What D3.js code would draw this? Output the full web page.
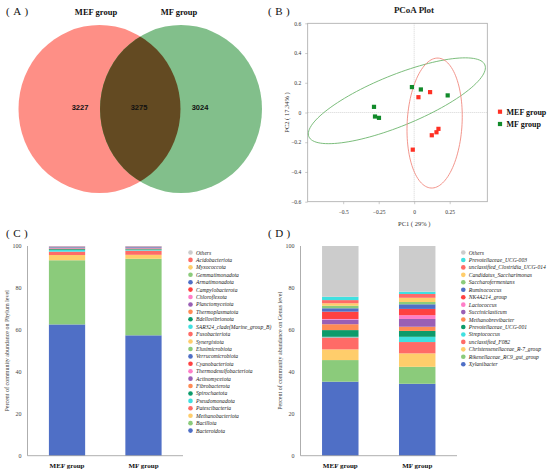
<!DOCTYPE html>
<html>
<head>
<meta charset="utf-8">
<script src="https://cdn.jsdelivr.net/npm/d3@7"></script>
<style>
  body { margin: 0; background: #fff; }
  svg { display: block; }
</style>
</head>
<body>
<svg id="fig"></svg>
<script>
// ---- data ----
var groups = ["MEF group", "MF group"];
var vennCounts = [3227, 3275, 3024];   // MEF only, shared, MF only

var mefPC1 = [0.03, 0.112, -0.01, 0.124, 0.157, 0.171];
var mefPC2 = [0.103, 0.137, -0.25, -0.153, -0.133, -0.11];
var mfPC1 = [-0.016, 0.047, 0.236, -0.283, -0.276, -0.248];
var mfPC2 = [0.171, 0.155, 0.115, 0.038, -0.027, -0.036];
// confidence ellipses: centre x, centre y, half axis 1 (x, y), half axis 2 (x, y)
var mefEllipse = [0.144, -0.071, 0.193, -0.010, 0.025, 0.437];
var mfEllipse = [-0.122, 0.079, 0.620, 0.241, -0.067, 0.159];
var pcoaXTicks = [-0.5, -0.25, 0, 0.25];
var pcoaYTicks = [0.6, 0.4, 0.2, 0, -0.2, -0.4, -0.6];

// phylum level, bottom of stack first
var phyla = ["Bacteroidota", "Bacillota", "Methanobacteriota", "Patescibacteria", "Pseudomonadota",
  "Spirochaetota", "Fibrobacterota", "Actinomycetota", "Thermodesulfobacteriota", "Cyanobacteriota",
  "Verrucomicrobiota", "Elusimicrobiota", "Synergistota", "Fusobacteriota", "SAR324_clade(Marine_group_B)",
  "Bdellovibrionota", "Thermoplasmatota", "Planctomycetota", "Chloroflexota", "Campylobacterota",
  "Armatimonadota", "Gemmatimonadota", "Myxococcota", "Acidobacteriota", "Others"];
var phylumMEF = [62.6, 30.6, 2.5, 1.6, 0.8, 0.4, 0.2, 0.2, 0.1, 0.1, 0.3, 0.05, 0.02, 0.02, 0.02,
  0.03, 0.02, 0.2, 0.03, 0.02, 0.02, 0.02, 0.02, 0.03, 0.1];
var phylumMF = [57.4, 36.5, 1.9, 2.0, 0.4, 0.3, 0.3, 0.2, 0.1, 0.1, 0.3, 0.05, 0.02, 0.02, 0.02,
  0.03, 0.02, 0.15, 0.02, 0.02, 0.02, 0.02, 0.02, 0.03, 0.06];

// genus level, bottom of stack first
var genera = ["Xylanibacter", "Rikenellaceae_RC9_gut_group", "Christensenellaceae_R-7_group",
  "unclassified_F082", "Streptococcus", "Prevotellaceae_UCG-001", "Methanobrevibacter",
  "Succiniclasticum", "Lactococcus", "NK4A214_group", "Ruminococcus", "Saccharofermentans",
  "Candidatus_Saccharimonas", "unclassified_Clostridia_UCG-014", "Prevotellaceae_UCG-003", "Others"];
var genusMEF = [35.3, 10.3, 5.1, 5.7, 0.3, 3.2, 2.8, 2.2, 0.3, 3.5, 1.6, 1.2, 1.2, 1.5, 1.6, 24.2];
var genusMF = [34.3, 8.1, 6.4, 5.4, 2.5, 2.8, 2.0, 3.7, 1.8, 3.0, 2.2, 1.1, 2.0, 1.8, 1.1, 21.8];

var percentTicks = [0, 20, 40, 60, 80, 100];

// ---- drawing ----
var W = 550, H = 474;
var serif = "'Liberation Serif', 'Times New Roman', serif";
var sans = "'Liberation Sans', Arial, sans-serif";
var cycle = ["#4f6fc6", "#8bcb7b", "#ffcd6b", "#ff6b67", "#40e0e0",
             "#0c9b6b", "#ff8b55", "#9a5fb5", "#ff7ec8", "#ff4141"];

var svg = d3.select("#fig").attr("width", W).attr("height", H);

function panelLabel(txt, x, y) {
  svg.append("text").attr("x", x).attr("y", y)
    .attr("font-family", serif).attr("font-size", 11)
    .attr("letter-spacing", 3.5).attr("fill", "#111")
    .text("(" + txt + ")");
}
panelLabel("A", 6, 15);
panelLabel("B", 268, 15);
panelLabel("C", 6, 237);
panelLabel("D", 268, 237);

// ---- (A) Venn ----
var venn = svg.append("g");
var vennX = d3.scaleLinear().domain([0, 1]).range([99.5, 181]);
var vennY = 109, vennRx = 81, vennRy = 84;
svg.append("defs").append("clipPath").attr("id", "leftSet")
  .append("ellipse").attr("cx", vennX(0)).attr("cy", vennY).attr("rx", vennRx).attr("ry", vennRy);
venn.append("ellipse").attr("cx", vennX(0)).attr("cy", vennY).attr("rx", vennRx).attr("ry", vennRy)
  .attr("fill", "#fe8f86");
venn.append("ellipse").attr("cx", vennX(1)).attr("cy", vennY).attr("rx", vennRx).attr("ry", vennRy)
  .attr("fill", "#82bf8b");
venn.append("ellipse").attr("cx", vennX(1)).attr("cy", vennY).attr("rx", vennRx).attr("ry", vennRy)
  .attr("clip-path", "url(#leftSet)").attr("fill", "#634a22");

groups.forEach(function(g, i) {
  venn.append("text").attr("x", [96, 179][i]).attr("y", 15)
    .attr("text-anchor", "middle").attr("font-family", serif).attr("font-weight", "bold")
    .attr("font-size", 8.5).attr("fill", "#111").text(g);
});
var countX = [80, 139, 200];
vennCounts.forEach(function(c, i) {
  venn.append("text").attr("x", countX[i]).attr("y", 110)
    .attr("text-anchor", "middle").attr("font-family", sans).attr("font-weight", "bold")
    .attr("font-size", 7.5).attr("fill", "#111").text(c);
});

// ---- (B) PCoA ----
var pc = svg.append("g");
var px = d3.scaleLinear().domain([-0.75, 0.515]).range([307.7, 487.3]);
var py = d3.scaleLinear().domain([-0.6, 0.6]).range([201.7, 23.3]);
var fmt = function(d) { return d === 0 ? "0" : d3.format("")(d); };

pc.append("rect").attr("x", px.range()[0]).attr("y", py.range()[1])
  .attr("width", px.range()[1] - px.range()[0]).attr("height", py.range()[0] - py.range()[1])
  .attr("fill", "none").attr("stroke", "#a8a8a8").attr("stroke-width", 0.8);
pc.append("line").attr("x1", px(0)).attr("x2", px(0)).attr("y1", py.range()[1]).attr("y2", py.range()[0])
  .attr("stroke", "#aaa").attr("stroke-width", 0.5).attr("stroke-dasharray", "1,1");
pc.append("line").attr("y1", py(0)).attr("y2", py(0)).attr("x1", px.range()[0]).attr("x2", px.range()[1])
  .attr("stroke", "#aaa").attr("stroke-width", 0.5).attr("stroke-dasharray", "1,1");

var xAx = pc.append("g").attr("transform", "translate(0," + py.range()[0] + ")")
  .call(d3.axisBottom(px).tickValues(pcoaXTicks).tickFormat(fmt).tickSize(2.5).tickPadding(6));
var yAx = pc.append("g").attr("transform", "translate(" + px.range()[0] + ",0)")
  .call(d3.axisLeft(py).tickValues(pcoaYTicks).tickFormat(fmt).tickSize(2.5).tickPadding(4));
[xAx, yAx].forEach(function(a) {
  a.select(".domain").remove();
  a.selectAll("line").attr("stroke", "#a8a8a8").attr("stroke-width", 0.6);
  a.selectAll("text").attr("font-family", serif).attr("font-size", 5.5).attr("fill", "#333");
});

function ellipsePath(e) {
  var pts = d3.range(0, 361, 3).map(function(deg) {
    var t = deg * Math.PI / 180;
    return [e[0] + e[2] * Math.cos(t) + e[4] * Math.sin(t),
            e[1] + e[3] * Math.cos(t) + e[5] * Math.sin(t)];
  });
  return d3.line().x(function(d) { return px(d[0]); }).y(function(d) { return py(d[1]); })(pts);
}
pc.append("path").attr("d", ellipsePath(mfEllipse)).attr("fill", "none")
  .attr("stroke", "#6db56d").attr("stroke-width", 0.9);
pc.append("path").attr("d", ellipsePath(mefEllipse)).attr("fill", "none")
  .attr("stroke", "#f08a80").attr("stroke-width", 0.9);

var sq = 4.2;
function drawPts(xs, ys, color) {
  pc.selectAll(null).data(xs).enter().append("rect")
    .attr("x", function(d) { return px(d) - sq / 2; })
    .attr("y", function(d, i) { return py(ys[i]) - sq / 2; })
    .attr("width", sq).attr("height", sq).attr("fill", color);
}
drawPts(mefPC1, mefPC2, "#ff3024");
drawPts(mfPC1, mfPC2, "#118a2a");

pc.append("text").attr("x", 414).attr("y", 13).attr("text-anchor", "middle")
  .attr("font-family", serif).attr("font-size", 9).attr("font-weight", "bold").attr("fill", "#222")
  .text("PCoA Plot");
pc.append("text").attr("x", px(0)).attr("y", 225.5).attr("text-anchor", "middle")
  .attr("font-family", serif).attr("font-size", 6.5).attr("fill", "#333").text("PC1 ( 29% )");
pc.append("text").attr("transform", "translate(289," + py(0) + ") rotate(-90)")
  .attr("text-anchor", "middle").attr("font-family", serif).attr("font-size", 6.5).attr("fill", "#333")
  .text("PC2 ( 17.34% )");

[["#ff3024", 111.7], ["#118a2a", 124]].forEach(function(l, i) {
  pc.append("rect").attr("x", 500 - sq / 2).attr("y", l[1] - sq / 2).attr("width", sq).attr("height", sq)
    .attr("fill", l[0]);
  pc.append("text").attr("x", 506.5).attr("y", l[1] + 2.8)
    .attr("font-family", serif).attr("font-weight", "bold").attr("font-size", 8).attr("fill", "#111")
    .text(groups[i]);
});

// ---- (C) and (D) stacked bars ----
function stackedPanel(opts) {
  var g = svg.append("g");
  var x = d3.scaleBand().domain(groups).range(opts.xRange).paddingInner(0.526).paddingOuter(0.28);
  var y = d3.scaleLinear().domain([0, 100]).range([455.7, 246]);
  var colors = opts.names.map(function(n, i) {
    return n === "Others" ? "#cccccc" : cycle[i % cycle.length];
  });
  var rows = opts.names.map(function(n, i) {
    var r = { name: n };
    r[groups[0]] = opts.values[0][i];
    r[groups[1]] = opts.values[1][i];
    return r;
  });
  // stack by taxon across groups
  var series = d3.stack().keys(opts.names)(groups.map(function(gr, gi) {
    var o = { group: gr };
    opts.names.forEach(function(n, i) { o[n] = opts.values[gi][i]; });
    return o;
  }));
  g.selectAll(".layer").data(series).enter().append("g")
    .attr("fill", function(d, i) { return colors[i]; })
    .selectAll("rect").data(function(d) { return d; }).enter().append("rect")
    .attr("x", function(d) { return x(d.data.group); })
    .attr("width", x.bandwidth())
    .attr("y", function(d) { return y(d[1]); })
    .attr("height", function(d) { return y(d[0]) - y(d[1]); });

  g.append("line").attr("x1", opts.xRange[0]).attr("x2", opts.xRange[0])
    .attr("y1", y(100)).attr("y2", y(0)).attr("stroke", "#999").attr("stroke-width", 0.8);
  g.append("line").attr("x1", opts.xRange[0]).attr("x2", opts.xRange[1])
    .attr("y1", y(0)).attr("y2", y(0)).attr("stroke", "#999").attr("stroke-width", 0.8);

  var ya = g.append("g").attr("transform", "translate(" + opts.xRange[0] + ",0)")
    .call(d3.axisLeft(y).tickValues(percentTicks).tickSize(0).tickPadding(6));
  ya.select(".domain").remove();
  ya.selectAll("text").attr("font-family", serif).attr("font-size", 6).attr("fill", "#444");

  var xa = g.append("g").attr("transform", "translate(0," + y(0) + ")")
    .call(d3.axisBottom(x).tickSize(0).tickPadding(7));
  xa.select(".domain").remove();
  xa.selectAll("text").attr("font-family", serif).attr("font-size", 7).attr("font-weight", "bold")
    .attr("fill", "#111");

  g.append("text").attr("transform", "translate(" + opts.labelX + "," + y(50) + ") rotate(-90)")
    .attr("text-anchor", "middle").attr("font-family", serif).attr("font-size", 6)
    .attr("fill", "#444").text(opts.ylabel);

  // legend, top item = last in stack
  var leg = g.selectAll(".leg").data(opts.names.slice().reverse()).enter().append("g")
    .attr("transform", function(d, i) { return "translate(" + opts.legX + "," + (252.5 + i * opts.legStep) + ")"; });
  leg.append("circle").attr("r", 2.3).attr("fill", function(d) { return colors[opts.names.indexOf(d)]; });
  leg.append("text").attr("x", 5.5).attr("y", 2)
    .attr("font-family", serif).attr("font-style", "italic").attr("font-size", 5.6).attr("fill", "#222")
    .text(function(d) { return d; });
}

stackedPanel({
  names: phyla, values: [phylumMEF, phylumMF], xRange: [27.5, 183],
  labelX: 8.5, ylabel: "Percent of community abundance on Phylum level",
  legX: 190.5, legStep: 7.42
});
stackedPanel({
  names: genera, values: [genusMEF, genusMF], xRange: [300.5, 457],
  labelX: 282, ylabel: "Percent of community abundance on Genus level",
  legX: 463.3, legStep: 7.45
});
</script>
</body>
</html>
